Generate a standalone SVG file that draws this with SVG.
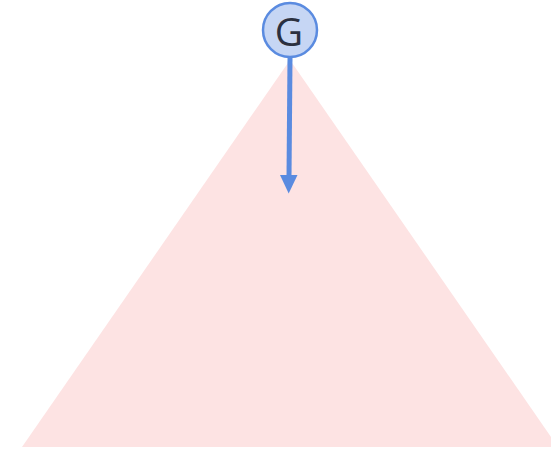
<svg xmlns="http://www.w3.org/2000/svg" width="551" height="451" viewBox="0 0 551 451">
  <style>
    .tri { fill: #fde3e3; stroke: none; }
    .node circle { fill: #c6d6f4; stroke: #5a8be0; stroke-width: 2.5; }
    .node text { font-family: "Open Sans", "DejaVu Sans", sans-serif; font-size: 39px; fill: #2b3040; text-anchor: middle; }
    .edge { stroke: #5a8be0; stroke-width: 5; fill: none; }
    .head { fill: #5a8be0; }
  </style>
  <rect width="551" height="451" fill="#ffffff"/>
  <polygon class="tri" points="290,60 22,447 558,447"/>
  <g id="connectors">
    <line class="edge" x1="290" y1="58" x2="289" y2="177"/>
    <polygon class="head" points="280,175 297.5,175 288.7,193.5"/>
  </g>
  <g id="node-G" class="node">
    <circle cx="290" cy="30" r="27"/>
    <text x="289" y="46">G</text>
  </g>
</svg>
